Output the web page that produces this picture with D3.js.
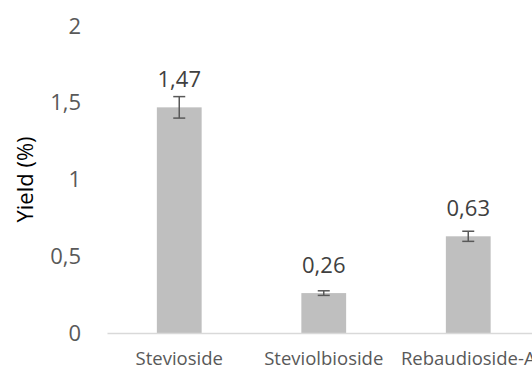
<!DOCTYPE html>
<html>
<head>
<meta charset="utf-8">
<script src="https://cdn.jsdelivr.net/npm/d3@7"></script>
<style>
  html, body { margin: 0; padding: 0; background: #fff; }
  svg { display: block; font-family: "Open Sans", sans-serif; }
</style>
</head>
<body>
<div id="chart"></div>
<script>
// chart data
const categories = ["Stevioside", "Steviolbioside", "Rebaudioside-A"];
const yieldValues = [1.47, 0.26, 0.63];
const yieldErrors = [0.07, 0.015, 0.033];
const yTicks = [0, 0.5, 1, 1.5, 2];

const width = 532, height = 369;
const margin = { top: 26, left: 107, bottom: 36 };
const plotRight = 540.5; // the plot runs past the right edge of the picture

const svg = d3.select("#chart").append("svg")
    .attr("width", width)
    .attr("height", height);

const xScale = d3.scaleBand()
    .domain(categories)
    .range([margin.left, plotRight])
    .paddingInner(0.69)
    .paddingOuter(0.345);

const yScale = d3.scaleLinear()
    .domain([0, 2])
    .range([height - margin.bottom, margin.top]);

const comma = d => String(d).replace(".", ",");
const label = d => d.toFixed(2).replace(".", ",");

// y axis labels only
const yAxis = svg.append("g")
    .attr("transform", `translate(${margin.left},0)`)
    .call(d3.axisLeft(yScale).tickValues(yTicks).tickSize(0).tickPadding(26).tickFormat(comma));
yAxis.select(".domain").remove();
yAxis.selectAll("text")
    .attr("fill", "#595959")
    .style("font-size", "22px")
    .style("font-family", "'Open Sans', sans-serif");

// bars
const data = categories.map((c, i) => ({ name: c, value: yieldValues[i], err: yieldErrors[i] }));

svg.selectAll("rect.bar")
    .data(data)
    .join("rect")
    .attr("class", "bar")
    .attr("x", d => xScale(d.name))
    .attr("y", d => yScale(d.value))
    .attr("width", xScale.bandwidth())
    .attr("height", d => yScale(0) - yScale(d.value))
    .attr("fill", "#bfbfbf");

// x axis
const xAxis = svg.append("g")
    .attr("transform", `translate(0,${yScale(0)})`)
    .call(d3.axisBottom(xScale).tickSize(0).tickPadding(19));
xAxis.select(".domain").attr("stroke", "#d9d9d9").attr("stroke-width", 1.3);
xAxis.selectAll("text")
    .attr("fill", "#595959")
    .style("font-size", "18.5px")
    .style("font-family", "'Open Sans', sans-serif");

// error bars
const errG = svg.append("g").attr("stroke", "#595959").attr("stroke-width", 1.5);
const cx = d => xScale(d.name) + xScale.bandwidth() / 2;
data.forEach(d => {
    const top = yScale(d.value + d.err), bot = yScale(d.value - d.err);
    errG.append("line").attr("x1", cx(d)).attr("x2", cx(d)).attr("y1", top).attr("y2", bot);
    errG.append("line").attr("x1", cx(d) - 6).attr("x2", cx(d) + 6).attr("y1", top).attr("y2", top);
    errG.append("line").attr("x1", cx(d) - 6).attr("x2", cx(d) + 6).attr("y1", bot).attr("y2", bot);
});

// data labels
svg.selectAll("text.val")
    .data(data)
    .join("text")
    .attr("class", "val")
    .attr("x", cx)
    .attr("y", d => yScale(d.value) - 20)
    .attr("text-anchor", "middle")
    .attr("fill", "#404040")
    .style("font-size", "22px")
    .text(d => label(d.value));

// y axis title
svg.append("text")
    .attr("transform", `translate(33,${(yScale(0) + yScale(2)) / 2}) rotate(-90)`)
    .attr("text-anchor", "middle")
    .attr("fill", "#000")
    .style("font-size", "22px")
    .text("Yield (%)");
</script>
</body>
</html>
